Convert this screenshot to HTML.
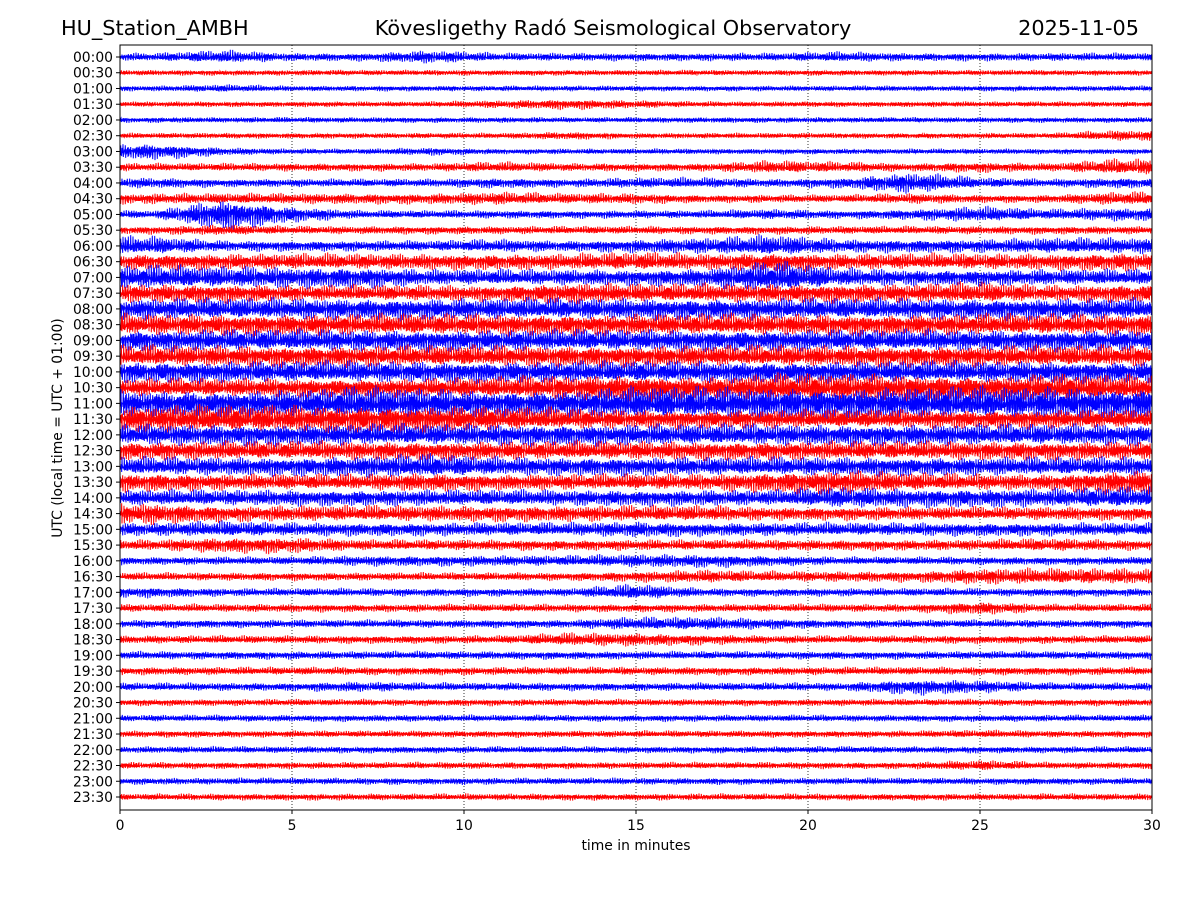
<!DOCTYPE html>
<html><head><meta charset="utf-8">
<style>
html,body{margin:0;padding:0;background:#fff;}
svg{display:block;font-family:"DejaVu Sans","Liberation Sans",sans-serif;}
</style></head>
<body>
<svg id="chart" width="1200" height="900" viewBox="0 0 1200 900" xmlns="http://www.w3.org/2000/svg">
<rect width="1200" height="900" fill="#fff"/>
<text x="61" y="35" font-size="20.8">HU_Station_AMBH</text>
<text x="613" y="35" font-size="20.8" text-anchor="middle">Kövesligethy Radó Seismological Observatory</text>
<text x="1139" y="35" font-size="20.8" text-anchor="end">2025-11-05</text>
<g id="grid"></g>
<g id="traces"></g>
<rect x="120" y="45" width="1032" height="765" fill="none" stroke="#000" stroke-width="1"/>
<g id="xticks"></g><g id="yticks"></g>
<text x="636" y="850" font-size="13.9" text-anchor="middle">time in minutes</text>
<text transform="translate(62,428) rotate(-90)" font-size="13.9" text-anchor="middle">UTC (local time = UTC + 01:00)</text>
</svg>
<script>
const rowLabels = ["00:00","00:30","01:00","01:30","02:00","02:30","03:00","03:30","04:00","04:30","05:00","05:30","06:00","06:30","07:00","07:30","08:00","08:30","09:00","09:30","10:00","10:30","11:00","11:30","12:00","12:30","13:00","13:30","14:00","14:30","15:00","15:30","16:00","16:30","17:00","17:30","18:00","18:30","19:00","19:30","20:00","20:30","21:00","21:30","22:00","22:30","23:00","23:30"];
const xTicks = [0,5,10,15,20,25,30];
// amplitude envelope per row, one value per 2-minute segment (pixels half-height)
const amps = [
[3,5,3,3,5,3,3,3,3,3,4,3,3,3,3],
[2,2,2,2,2,2,2,2,2,2,2,2,2,2,2],
[2,3,2,2,2,2,2,2,2,2,2,2,2,2,2],
[2,2,2,2,2,3,4,3,2,2,2,2,2,2,2],
[2,2,2,2,2,2,2,2,2,2,2,2,2,2,2],
[2,2,2,2,2,2,3,2,2,2,2,2,2,2,4],
[6,3,2,2,3,2,2,2,2,2,2,2,2,2,2],
[3,3,3,3,3,4,3,3,3,5,4,3,4,3,6],
[4,3,3,3,3,4,3,4,4,3,4,8,4,3,4],
[4,4,4,4,4,5,4,4,3,3,3,4,3,3,5],
[3,12,6,3,3,3,3,3,3,4,3,4,6,4,5],
[3,4,3,3,3,3,3,3,3,3,3,3,3,3,3],
[7,4,4,4,4,5,4,5,6,8,5,5,5,6,6],
[6,6,6,6,6,6,6,7,6,7,6,6,6,6,7],
[9,8,8,8,6,6,6,6,7,12,7,6,6,6,6],
[7,7,6,6,6,6,8,7,7,7,7,7,8,6,7],
[8,8,8,8,8,8,8,8,8,8,8,8,8,8,8],
[8,8,8,8,8,8,8,8,8,8,8,8,8,8,8],
[8,8,8,8,8,8,8,8,8,8,8,8,8,8,8],
[8,8,8,8,8,8,8,8,8,8,8,8,8,8,8],
[8,8,8,8,8,8,8,8,8,8,8,8,8,8,8],
[7,7,7,7,7,8,9,10,8,10,10,10,9,10,9],
[10,10,10,12,11,10,10,12,12,12,12,12,12,12,12],
[10,10,10,10,10,9,8,7,7,7,7,7,7,7,7],
[8,8,8,8,8,8,8,8,8,8,8,8,8,8,8],
[7,7,7,7,7,7,7,7,7,7,7,7,7,7,7],
[7,7,7,8,9,7,7,7,7,7,7,7,7,7,7],
[7,6,6,6,7,6,6,6,6,8,9,7,6,6,9],
[6,6,6,6,6,6,6,6,6,6,8,7,7,7,8],
[8,6,6,6,6,6,6,6,6,5,5,5,5,5,5],
[5,6,5,5,5,5,5,6,5,5,5,5,5,5,5],
[4,6,6,4,4,4,4,4,4,4,4,4,4,5,4],
[3,3,3,4,4,4,4,5,5,4,3,3,3,3,3],
[3,3,3,3,3,3,3,4,5,4,4,4,6,6,6],
[4,3,3,3,3,3,3,6,3,3,3,3,3,3,3],
[3,3,3,3,3,3,3,3,3,3,3,3,5,3,3],
[3,3,3,3,3,3,3,5,5,4,3,3,3,3,3],
[3,3,3,3,3,3,5,5,4,3,3,3,3,3,3],
[3,3,3,3,3,3,3,3,3,3,3,3,3,3,3],
[3,3,3,3,3,3,3,3,3,3,3,3,3,3,3],
[3,3,3,4,3,3,3,3,3,3,3,6,5,3,3],
[2.5,2.5,2.5,2.5,2.5,2.5,2.5,2.5,2.5,2.5,2.5,2.5,2.5,2.5,2.5],
[2.5,2.5,2.5,2.5,2.5,2.5,2.5,2.5,2.5,2.5,2.5,2.5,2.5,2.5,2.5],
[2.5,2.5,2.5,2.5,2.5,2.5,2.5,2.5,2.5,2.5,2.5,2.5,3,2.5,2.5],
[2.5,2.5,2.5,2.5,2.5,2.5,2.5,2.5,2.5,2.5,2.5,2.5,2.5,2.5,2.5],
[2.5,2.5,2.5,2.5,2.5,2.5,2.5,2.5,2.5,2.5,2.5,2.5,4,2.5,2.5],
[2.5,2.5,2.5,2.5,2.5,2.5,2.5,2.5,2.5,2.5,2.5,2.5,2.5,2.5,2.5],
[2.5,2.5,2.5,2.5,2.5,2.5,2.5,2.5,2.5,2.5,2.5,2.5,2.5,2.5,2.5]
];
const NS="http://www.w3.org/2000/svg";
const X0=120,X1=1152,Y0=57,DY=(797-57)/47;
const xScale=m=>X0+(m/30)*(X1-X0);
const yScale=i=>Y0+i*DY;
const grid=document.getElementById('grid'),tr=document.getElementById('traces');
const xt=document.getElementById('xticks'),yt=document.getElementById('yticks');
xTicks.forEach(t=>{
  const x=xScale(t);
  if(t>0&&t<30){const l=document.createElementNS(NS,'line');
    
    
    l.setAttribute('x1',x);l.setAttribute('x2',x);l.setAttribute('y1',45);l.setAttribute('y2',810);
    l.setAttribute('stroke','#000');l.setAttribute('stroke-width','0.8');l.setAttribute('stroke-dasharray','1,2');grid.appendChild(l);}
  const tk=document.createElementNS(NS,'line');
  
  
  tk.setAttribute('x1',x);tk.setAttribute('x2',x);tk.setAttribute('y1',810);tk.setAttribute('y2',814);tk.setAttribute('stroke','#000');xt.appendChild(tk);
  const tx=document.createElementNS(NS,'text');
  
  
  tx.setAttribute('x',x);tx.setAttribute('y',830);tx.setAttribute('font-size','13.9');tx.setAttribute('text-anchor','middle');tx.textContent=t;xt.appendChild(tx);
});
rowLabels.forEach((lab,i)=>{
  const y=yScale(i);
  const tk=document.createElementNS(NS,'line');
  
  
  tk.setAttribute('x1',116);tk.setAttribute('x2',120);tk.setAttribute('y1',y);tk.setAttribute('y2',y);tk.setAttribute('stroke','#000');yt.appendChild(tk);
  const tx=document.createElementNS(NS,'text');
  
  
  tx.setAttribute('x',113);tx.setAttribute('y',y+5);tx.setAttribute('font-size','13.9');tx.setAttribute('text-anchor','end');tx.textContent=lab;yt.appendChild(tx);
  const a=amps[i],n=a.length,seg=30/n;
  let d='';
  const steps=3096;
  for(let k=0;k<=steps;k++){
    const m=30*k/steps;
    let f=m/seg-0.5; f=Math.max(0,Math.min(n-1,f));
    const i0=Math.floor(f),i1=Math.min(n-1,i0+1),fr=f-i0;
    const amp=a[i0]*(1-fr)+a[i1]*fr;
    const w=Math.sin(k*2.71+i)*0.55+Math.sin(k*1.93+i*3.1)*0.3+Math.sin(k*0.87+i*0.7)*0.25;
    const mod=0.7+0.3*Math.abs(Math.sin(k*0.033+i*1.9));
    d+=(k?'L':'M')+xScale(m).toFixed(1)+' '+(y+w*amp*mod*1.45).toFixed(1);
  }
  const p=document.createElementNS(NS,'path');
  
  
  p.setAttribute('d',d);p.setAttribute('fill','none');
  p.setAttribute('stroke',i%2?'#ff0000':'#0000ff');p.setAttribute('stroke-width','1');
  tr.appendChild(p);
});
</script>
</body></html>
